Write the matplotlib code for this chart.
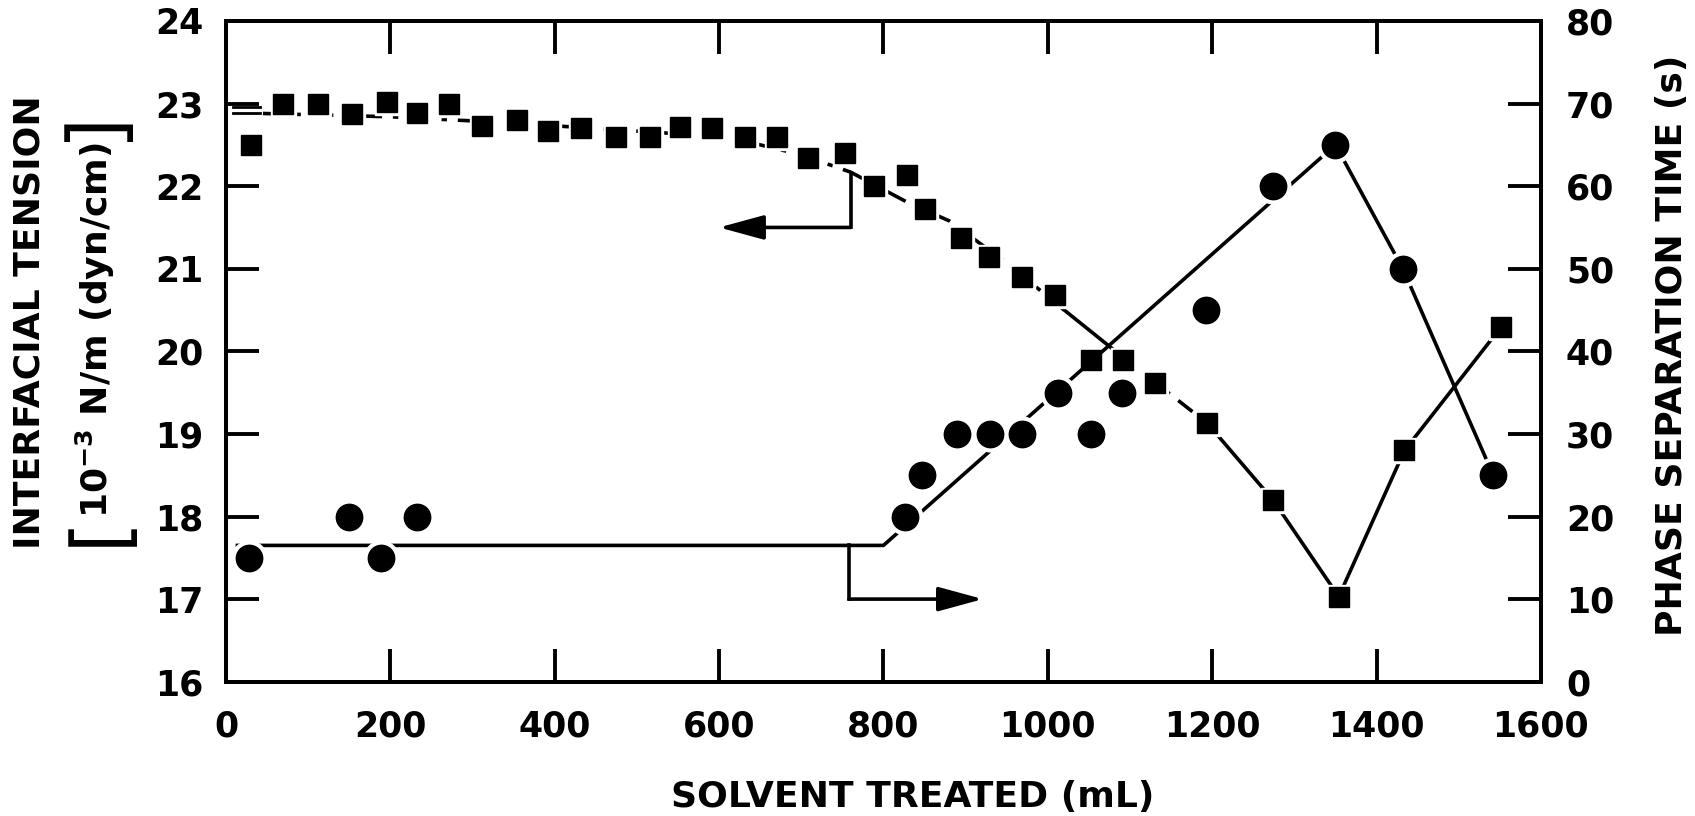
import matplotlib
matplotlib.use('Agg')
import matplotlib.pyplot as plt

plt.rcParams['font.family'] = 'DejaVu Sans'
plt.rcParams['font.weight'] = 'bold'
plt.rcParams['mathtext.fontset'] = 'dejavusans'

# interfacial tension, squares, left axis
it_x = [30, 70, 112, 153, 196, 233, 271, 311, 354, 392, 432, 474, 516, 552, 592, 632, 670,
        708, 753, 789, 829, 850, 894, 929, 968, 1009, 1053, 1091, 1131, 1194, 1274, 1354, 1434, 1552]
it_y = [22.50, 22.99, 23.00, 22.87, 23.02, 22.88, 23.00, 22.73, 22.80, 22.67, 22.71, 22.59, 22.59,
        22.72, 22.71, 22.59, 22.60, 22.34, 22.40, 22.00, 22.13, 21.72, 21.37, 21.14, 20.90, 20.68,
        19.89, 19.89, 19.62, 19.13, 18.20, 17.03, 18.80, 20.30]

# phase separation time, circles, right axis
ps_x = [28, 150, 189, 233, 826, 847, 890, 930, 968, 1013, 1053, 1090, 1193, 1274, 1350, 1432, 1542]
ps_y = [15, 20, 15, 20, 20, 25, 30, 30, 30, 35, 30, 35, 45, 60, 65, 50, 25]

# hand drawn guide lines
it_curve_x = [45, 200, 300, 450, 570, 650, 700, 760, 830, 880, 950, 1020]
it_curve_y = [22.88, 22.84, 22.79, 22.70, 22.62, 22.50, 22.38, 22.17, 21.80, 21.58, 21.07, 20.50]
it_tail_x = [1020, 1080]
it_tail_y = [20.50, 20.02]
it_dash_x = [1131, 1194]
it_dash_y = [19.62, 19.13]
it_v_x = [1194, 1274, 1354, 1434, 1552]
it_v_y = [19.13, 18.20, 17.03, 18.80, 20.30]

ps_line_x = [14, 800, 1350, 1432, 1542]
ps_line_y = [16.5, 16.5, 65, 50, 25]

break_x = [8, 42]
break_y1 = [22.96, 22.96]
break_y2 = [22.88, 22.88]

left_arrow_x = [760, 760, 600]
left_arrow_y = [22.14, 21.50, 21.50]
right_arrow_x = [758, 758, 921]
right_arrow_y = [16.5, 10.0, 10.0]

W, H = 1695, 816
lw = 2.6
fig = plt.figure(figsize=(W / 100, H / 100), dpi=100)
ax = fig.add_axes([0.1333, 0.1646, 0.7758, 0.8097])
ax2 = ax.twinx()

ax.plot(it_curve_x, it_curve_y, color='k', lw=lw, ls=(0, (6, 3, 1.5, 3)), zorder=2)
ax.plot(it_tail_x, it_tail_y, color='k', lw=lw, zorder=2)
ax.plot(it_dash_x, it_dash_y, color='k', lw=lw, ls=(0, (5, 3)), zorder=2)
ax.plot(it_v_x, it_v_y, color='k', lw=lw, zorder=2)
ax.plot(break_x, break_y1, color='k', lw=2, zorder=2)
ax.plot(break_x, break_y2, color='k', lw=2, zorder=2)
ax.plot(it_x, it_y, 's', ms=18, mfc='white', mec='white', zorder=3)
ax.plot(it_x, it_y, 's', ms=14, color='k', zorder=4)

ax.plot(left_arrow_x[:2], left_arrow_y[:2], color='k', lw=lw)
ax.annotate('', xy=(left_arrow_x[2], left_arrow_y[2]), xytext=(left_arrow_x[1], left_arrow_y[1]),
            arrowprops=dict(arrowstyle='-|>,head_length=1.1,head_width=0.3', color='k',
                            lw=lw, mutation_scale=25, shrinkA=0, shrinkB=0))

ax2.plot(ps_line_x, ps_line_y, color='k', lw=lw, zorder=2)
ax2.plot(ps_x, ps_y, 'o', ms=25, mfc='white', mec='white', zorder=3)
ax2.plot(ps_x, ps_y, 'o', ms=19, color='k', zorder=4)
ax2.plot(right_arrow_x[:2], right_arrow_y[:2], color='k', lw=lw)
ax2.annotate('', xy=(right_arrow_x[2], right_arrow_y[2]), xytext=(right_arrow_x[1], right_arrow_y[1]),
             arrowprops=dict(arrowstyle='-|>,head_length=1.1,head_width=0.3', color='k',
                             lw=lw, mutation_scale=25, shrinkA=0, shrinkB=0))

ax.set_xlim(0, 1600)
ax.set_ylim(16, 24)
ax2.set_ylim(0, 80)
ax.set_xticks(range(0, 1601, 200))
ax.set_yticks(range(16, 25))
ax2.set_yticks(range(0, 81, 10))

for a in (ax, ax2):
    for s in a.spines.values():
        s.set_linewidth(2.8)
ax.tick_params(axis='x', direction='in', top=True, length=24, width=2.8, labelsize=25, pad=20)
ax.tick_params(axis='y', direction='in', length=24, width=2.8, labelsize=25, pad=16)
ax2.tick_params(axis='y', direction='in', length=24, width=2.8, labelsize=25, pad=18)

fig.text(0.5386, 0.0233, 'SOLVENT TREATED (mL)', ha='center', va='center', fontsize=26, fontweight='bold')
fig.text(30 / W, 0.605, 'INTERFACIAL TENSION', rotation=90, ha='center', va='center',
         fontsize=26, fontweight='bold')
unit = fig.text(95 / W, 0.595, r'10$^{\mathbf{-3}}$ N/m (dyn/cm)', rotation=90,
                ha='center', va='center', fontsize=26, fontweight='bold')
fig.text(1672 / W, 0.577, 'PHASE SEPARATION TIME (s)', rotation=90, ha='center', va='center',
         fontsize=26, fontweight='bold')

# tall brackets round the unit line
fig.canvas.draw()
bb = unit.get_window_extent(fig.canvas.get_renderer())
fig.text(99 / W, (bb.y0 - 2) / H, '[', rotation=90, ha='center', va='top',
         fontsize=56, family=['Noto Sans', 'DejaVu Sans'], fontweight='light')
fig.text(99 / W, (bb.y1 + 2) / H, ']', rotation=90, ha='center', va='bottom',
         fontsize=56, family=['Noto Sans', 'DejaVu Sans'], fontweight='light')

fig.savefig('out.png', dpi=100, facecolor='white')
